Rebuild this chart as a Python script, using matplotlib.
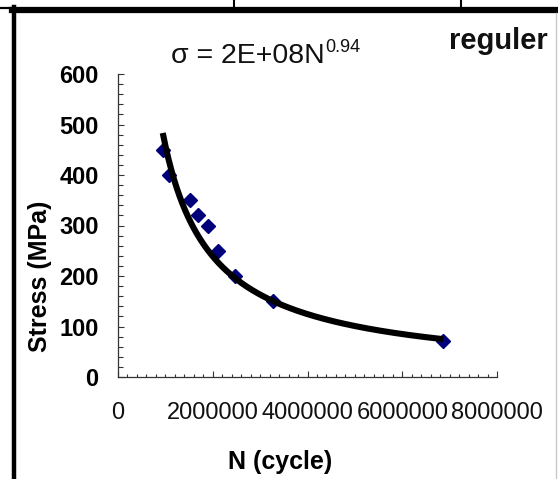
import numpy as np
import matplotlib
matplotlib.use('Agg')
import matplotlib.pyplot as plt
from matplotlib.lines import Line2D
from matplotlib.ticker import MultipleLocator

plt.rcParams['font.family'] = ['Liberation Sans', 'DejaVu Sans']

# Data
cycles = [0.945e6, 1.08e6, 1.53e6, 1.68e6, 1.91e6, 2.12e6, 2.47e6, 3.28e6, 6.86e6]
stress = [450, 400, 350, 320, 300, 250, 200, 150, 71]
x_ticks = [0, 2000000, 4000000, 6000000, 8000000]
x_tick_labels = ['0', '2000000', '4000000', '6000000', '8000000']

# Power trendline shown on the chart: sigma = A * N^-b
coef_a = 2e8
coef_b = 0.94

W, H = 558, 479


def fx(px):
    return px / W


def fy(py):
    return 1 - py / H


fig = plt.figure(figsize=(W / 100, H / 100), dpi=100)
fig.patch.set_facecolor('white')

# Page/table borders around the chart
fig.add_artist(Line2D([fx(0), fx(12)], [fy(8), fy(8)], color='black', lw=1.6))
fig.add_artist(Line2D([fx(12), fx(558)], [fy(10), fy(10)], color='black', lw=4.5))
fig.add_artist(Line2D([fx(14), fx(14)], [fy(7), fy(479)], color='black', lw=3.2))
fig.add_artist(Line2D([fx(233.5), fx(233.5)], [fy(0), fy(8)], color='black', lw=1.5))
fig.add_artist(Line2D([fx(461), fx(461)], [fy(0), fy(8)], color='black', lw=1.5))
fig.add_artist(Line2D([fx(556), fx(556)], [fy(13), fy(479)], color='#c8c8c8', lw=1.0))

ax = fig.add_axes([fx(118), fy(377), fx(497) - fx(118), fy(74) - fy(377)])
ax.set_xlim(0, 8000000)
ax.set_ylim(0, 600)

# trendline across the data range
n_line = np.linspace(min(cycles), max(cycles), 300)
ax.plot(n_line, coef_a * n_line ** (-coef_b), color='black', lw=4.4,
        solid_capstyle='butt', zorder=3)
ax.plot(cycles, stress, linestyle='none', marker='D', markersize=7.5,
        color='#00007a', zorder=2)

for side in ['top', 'right']:
    ax.spines[side].set_visible(False)
for side in ['left', 'bottom']:
    ax.spines[side].set_color('#333333')
    ax.spines[side].set_linewidth(0.9)

ax.set_xticks(x_ticks)
ax.set_xticklabels(x_tick_labels)
ax.xaxis.set_minor_locator(MultipleLocator(200000))
ax.yaxis.set_major_locator(MultipleLocator(100))
ax.yaxis.set_minor_locator(MultipleLocator(20))
ax.tick_params(axis='y', which='major', direction='in', length=4, width=0.8,
               color='#333333', pad=14, labelsize=17)
ax.tick_params(axis='y', which='minor', direction='in', length=3.5, width=0.8,
               color='#333333')
ax.tick_params(axis='x', which='major', direction='in', length=4.5, width=0.8,
               color='#333333', pad=18, labelsize=17)
ax.tick_params(axis='x', which='minor', direction='in', length=2.2, width=0.8,
               color='#333333')
for lab in ax.get_yticklabels():
    lab.set_fontweight('bold')
for lab in ax.get_xticklabels():
    lab.set_color('#111111')

# Axis titles
fig.text(fx(40), fy(276), 'Stress (MPa)', rotation=90, ha='center', va='center',
         fontsize=18, fontweight='bold')
fig.text(fx(280), fy(462), 'N (cycle)', ha='center', va='center',
         fontsize=18, fontweight='bold')

# Trendline equation and series name
eq = fig.text(fx(171), fy(63), 'σ = 2E+08N', ha='left', va='baseline',
              fontsize=20.5, color='#111111')
fig.canvas.draw()
bb = eq.get_window_extent()
fig.text(bb.x1 / W + 0.001, fy(52), '0.94', ha='left', va='baseline',
         fontsize=13, color='#111111')
fig.text(fx(548), fy(49), 'reguler', ha='right', va='baseline',
         fontsize=21, fontweight='bold', color='#111111')

fig.savefig('out.png', dpi=100, facecolor='white')
